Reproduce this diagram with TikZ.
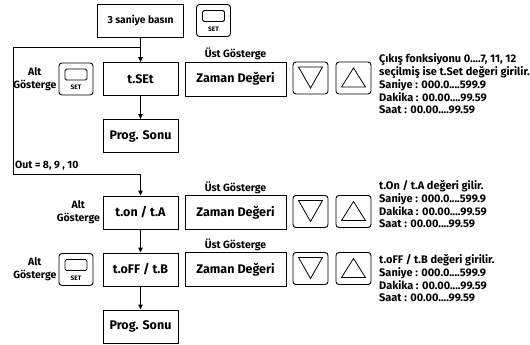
\documentclass[tikz,border=0pt]{standalone}
\usepackage{fontspec}
\setmainfont{Fira Sans}
\usetikzlibrary{positioning}
\usetikzlibrary{arrows.meta}
\usetikzlibrary{math}

\tikzset{
  mainbox/.style={draw, line width=0.9pt, minimum width=75pt, minimum height=33pt,
    inner sep=0pt, font=\fontsize{12.5}{14}\selectfont\bfseries},
  valbox/.style={mainbox, minimum width=101pt, minimum height=34pt},
  keybox/.style={draw, line width=0.9pt, rounded corners=3pt, minimum width=35pt,
    minimum height=32pt, inner sep=0pt},
  lbl/.style={font=\fontsize{10.5}{13}\selectfont\bfseries, inner sep=1.5pt},
  note/.style={font=\fontsize{11}{12.8}\selectfont\bfseries, align=left,
    inner sep=0pt, anchor=base west},
  wire/.style={line width=0.9pt},
  arr/.style={wire, -{Triangle[length=5pt,width=4.5pt]}},
  % key with a small display and SET written under it
  setkey/.pic={
    \node[keybox, minimum width=34pt] (-k) {};
    \draw[line width=0.8pt, rounded corners=1.5pt] (-11,-10) rectangle (11,1);
    \node[font=\fontsize{6.5}{7}\selectfont\bfseries, inner sep=0pt] (-t) at (0,8.5) {SET};
  },
  % arrow keys
  downkey/.pic={
    \node[keybox] (-k) {};
    \draw[line width=0.8pt] (-12,-11) -- (12,-11) -- (0,10) -- cycle;
  },
  upkey/.pic={
    \node[keybox] (-k) {};
    \draw[line width=0.8pt] (-12,9) -- (12,9) -- (0,-10) -- cycle;
  },
}

\begin{document}
\begin{tikzpicture}[x=1pt,y=-1pt]

  \tikzmath{
    \colx  = 140.5; % x of the main column
    \rowA  = 79;    % t.SEt row
    \rowB  = 212.5; % t.on row
    \rowC  = 269.5; % t.oFF row
    \valx  = 235.5; % x of value boxes
    \dnx   = 310.5; % x of down key
    \upx   = 353.5; % x of up key
    \notex = 379;   % left edge of the notes
  }

  \useasboundingbox (0,0) rectangle (530,345);

  % start
  \node[mainbox, minimum width=86pt, font=\fontsize{10.3}{12}\selectfont\bfseries]
    (start) at (\colx,20.5) {3 saniye basın};
  \pic (setTop) at (213.5,20.5) {setkey};

  % first row: t.SEt
  \node[mainbox] (tset) at (\colx,\rowA) {t.SEt};
  \pic (setA) at (76,\rowA) {setkey};
  \node[lbl, align=center, left=0.5pt of setA-k] (altA) {Alt\\Gösterge};
  \node[valbox] (valA) at (\valx,\rowA) {Zaman Değeri};
  \node[lbl, above=0pt of valA] (ustA) {Üst Gösterge};
  \pic (downA) at (\dnx,\rowA-1) {downkey};
  \pic (upA) at (\upx,\rowA-1) {upkey};
  % notes are placed by the baseline of their last line
  \node[note] (noteA) at (\notex,113.8) {Çıkış fonksiyonu 0....7, 11, 12\\
    seçilmiş ise t.Set değeri girilir.\\Saniye : 000.0....599.9\\
    Dakika : 00.00....99.59\\Saat : 00.00....99.59};
  \node[mainbox] (progA) at (\colx,136) {Prog. Sonu};

  % second row: t.on / t.A
  \node[mainbox] (ton) at (\colx,\rowB) {t.on / t.A};
  \node[lbl, align=center, left=1pt of ton] (altB) {Alt\\Gösterge};
  \node[valbox] (valB) at (\valx,\rowB) {Zaman Değeri};
  \node[lbl, above=0pt of valB] (ustB) {Üst Gösterge};
  \pic (downB) at (\dnx,\rowB-1) {downkey};
  \pic (upB) at (\upx,\rowB-1) {upkey};
  \node[note] (noteB) at (\notex,227.8) {t.On / t.A değeri gilir.\\
    Saniye : 000.0....599.9\\Dakika : 00.00....99.59\\Saat : 00.00....99.59};

  % third row: t.oFF / t.B
  \node[mainbox] (toff) at (\colx,\rowC) {t.oFF / t.B};
  \pic (setC) at (76,\rowC) {setkey};
  \node[lbl, align=center, left=0.5pt of setC-k] (altC) {Alt\\Gösterge};
  \node[valbox] (valC) at (\valx,\rowC) {Zaman Değeri};
  \node[lbl, above=0pt of valC] (ustC) {Üst Gösterge};
  \pic (downC) at (\dnx,\rowC-1) {downkey};
  \pic (upC) at (\upx,\rowC-1) {upkey};
  \node[note] (noteC) at (\notex,301.8) {t.oFF / t.B değeri girilir.\\
    Saniye : 000.0....599.9\\Dakika : 00.00....99.59\\Saat : 00.00....99.59};
  \node[mainbox] (progB) at (\colx,326.5) {Prog. Sonu};

  % loop for Out = 8, 9, 10
  \coordinate (j1) at (\colx,47);
  \coordinate (c1) at (13,47);
  \coordinate (c2) at (13,174);
  \coordinate (j2) at (\colx,174);
  \node[lbl, anchor=south west, inner sep=1pt] (outlbl) at (14,172) {Out = 8, 9 , 10};

  % connectors
  \draw[arr] (start) -- (tset);
  \draw[arr] (tset) -- (progA);
  \draw[wire] (j1) -- (c1) -- (c2) -- (j2);
  \draw[arr] (j2) -- (ton);
  \draw[arr] (ton) -- (toff);
  \draw[arr] (toff) -- (progB);

\end{tikzpicture}
\end{document}
